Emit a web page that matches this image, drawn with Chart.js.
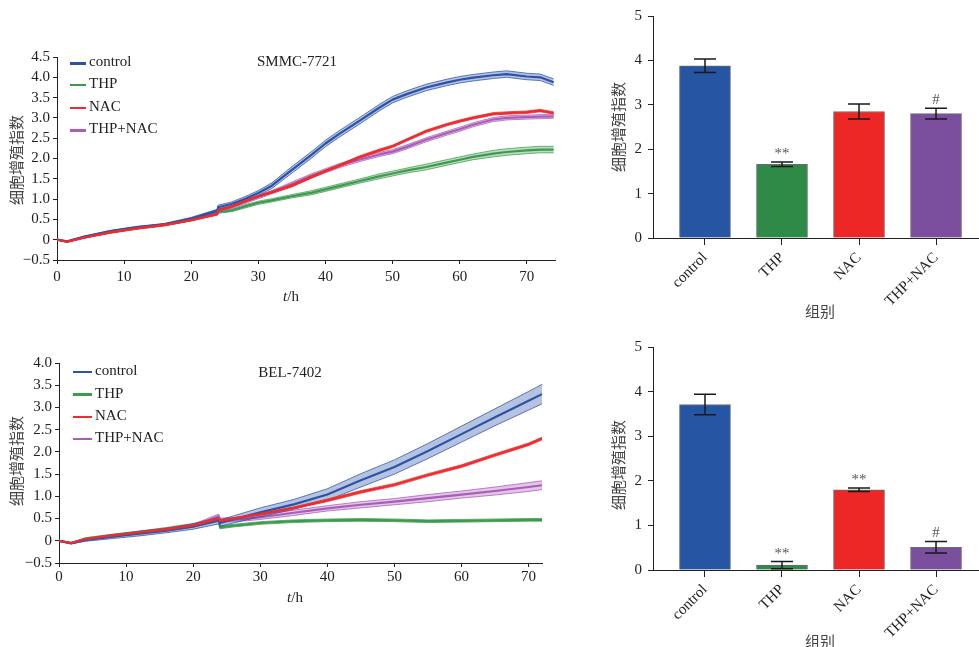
<!DOCTYPE html>
<html>
<head>
<meta charset="utf-8">
<script src="https://cdn.jsdelivr.net/npm/chart.js@4.4.1/dist/chart.umd.min.js"></script>
<style>
  body { margin: 0; background: #fff; }
  #wrap { position: relative; width: 979px; height: 647px; overflow: hidden;
          font-family: 'Liberation Serif', 'Times New Roman', serif; color: #222; }
  canvas { position: absolute; }
  .t { position: absolute; white-space: nowrap; font-size: 15px; line-height: 1;
       transform: translate(-50%, -50%); }
  .l { position: absolute; white-space: nowrap; font-size: 15px; line-height: 1;
       transform: translateY(-50%); }
  .cjk { font-family: 'Noto Sans CJK SC', sans-serif; color: #444; }
  .vt { transform: translate(-50%, -50%) rotate(-90deg); }
  .swatch { position: absolute; }
</style>
</head>
<body>
<div id="wrap">
  <canvas id="lineA" width="600" height="330" style="left:0;top:0"></canvas>
  <canvas id="lineB" width="600" height="317" style="left:0;top:330px"></canvas>
  <canvas id="barA" width="379" height="330" style="left:600px;top:0"></canvas>
  <canvas id="barB" width="379" height="317" style="left:600px;top:330px"></canvas>

  <div class="t" style="left:297px;top:61px">SMMC-7721</div>
  <div class="t" style="left:290px;top:372px">BEL-7402</div>
  <div class="t" style="left:291px;top:296px"><i>t</i>/h</div>
  <div class="t" style="left:295px;top:597px"><i>t</i>/h</div>
  <div class="t cjk vt" style="left:15px;top:160px">细胞增殖指数</div>
  <div class="t cjk vt" style="left:15px;top:461px">细胞增殖指数</div>
  <div class="t cjk vt" style="left:617px;top:127px">细胞增殖指数</div>
  <div class="t cjk vt" style="left:617px;top:465px">细胞增殖指数</div>
  <div class="t cjk" style="left:820px;top:310px">组别</div>
  <div class="t cjk" style="left:820px;top:640px">组别</div>
  <div id="legends"></div>
</div>
<script>
const serif = "'Liberation Serif', 'Times New Roman', serif";

const groups = ['control', 'THP', 'NAC', 'THP+NAC'];
const lineColors = ['#2b53a7', '#3d9b4d', '#ee2b2e', '#a95cb8'];
const barColors = ['#2655a3', '#2f8a47', '#ec2726', '#7c4f9e'];

// SMMC-7721 real-time proliferation
const hoursA = [0, 1.5, 4, 8, 12, 16, 20, 23.9, 24, 26, 28, 30, 32, 35, 38, 40, 42, 45, 48, 50, 52, 55, 58, 60, 62, 65, 67, 70, 72, 74];
const controlA = [0, -0.04, 0.07, 0.21, 0.31, 0.38, 0.52, 0.72, 0.80, 0.88, 1.00, 1.15, 1.33, 1.72, 2.10, 2.37, 2.60, 2.92, 3.25, 3.45, 3.58, 3.75, 3.87, 3.94, 3.99, 4.05, 4.08, 4.02, 4.00, 3.88];
const thpA     = [0, -0.05, 0.06, 0.19, 0.29, 0.37, 0.49, 0.65, 0.68, 0.72, 0.82, 0.91, 0.97, 1.07, 1.16, 1.24, 1.32, 1.44, 1.56, 1.63, 1.70, 1.79, 1.90, 1.97, 2.04, 2.12, 2.16, 2.20, 2.22, 2.22];
const nacA     = [0, -0.05, 0.05, 0.18, 0.28, 0.36, 0.48, 0.63, 0.72, 0.82, 0.95, 1.07, 1.17, 1.33, 1.55, 1.69, 1.82, 2.03, 2.20, 2.30, 2.45, 2.67, 2.83, 2.92, 3.00, 3.10, 3.12, 3.14, 3.18, 3.12];
const comboA   = [0, -0.05, 0.05, 0.19, 0.29, 0.37, 0.49, 0.64, 0.73, 0.80, 0.93, 1.05, 1.17, 1.37, 1.58, 1.70, 1.82, 1.97, 2.10, 2.17, 2.28, 2.46, 2.62, 2.72, 2.83, 2.96, 3.00, 3.02, 3.03, 3.04];
const controlErrA = [0, 0.01, 0.02, 0.02, 0.02, 0.02, 0.03, 0.03, 0.05, 0.05, 0.06, 0.06, 0.07, 0.08, 0.08, 0.08, 0.08, 0.08, 0.08, 0.08, 0.08, 0.08, 0.08, 0.08, 0.08, 0.08, 0.08, 0.08, 0.08, 0.08];
const thpErrA     = [0, 0.01, 0.01, 0.02, 0.02, 0.02, 0.02, 0.03, 0.03, 0.03, 0.04, 0.04, 0.04, 0.04, 0.05, 0.05, 0.05, 0.05, 0.06, 0.06, 0.06, 0.07, 0.07, 0.07, 0.07, 0.08, 0.08, 0.08, 0.08, 0.08];
const nacErrA     = [0, 0.01, 0.01, 0.02, 0.02, 0.02, 0.02, 0.02, 0.02, 0.02, 0.02, 0.02, 0.03, 0.03, 0.03, 0.03, 0.03, 0.03, 0.03, 0.03, 0.03, 0.03, 0.03, 0.03, 0.03, 0.03, 0.03, 0.03, 0.03, 0.03];
const comboErrA   = [0, 0.01, 0.01, 0.02, 0.02, 0.02, 0.02, 0.03, 0.03, 0.03, 0.04, 0.04, 0.04, 0.05, 0.05, 0.05, 0.05, 0.05, 0.05, 0.05, 0.05, 0.05, 0.05, 0.05, 0.05, 0.05, 0.05, 0.05, 0.05, 0.05];

// BEL-7402 real-time proliferation
const hoursB = [0, 1.8, 4, 8, 12, 16, 20, 23.8, 24, 26, 28, 30, 35, 40, 45, 50, 55, 60, 65, 70, 72];
const controlB = [0, -0.06, 0.02, 0.09, 0.16, 0.23, 0.32, 0.45, 0.40, 0.48, 0.56, 0.64, 0.82, 1.04, 1.36, 1.66, 2.02, 2.40, 2.78, 3.15, 3.30];
const thpB     = [0, -0.05, 0.05, 0.13, 0.20, 0.27, 0.36, 0.50, 0.30, 0.34, 0.37, 0.40, 0.44, 0.46, 0.47, 0.46, 0.44, 0.45, 0.46, 0.47, 0.47];
const nacB     = [0, -0.05, 0.04, 0.12, 0.19, 0.26, 0.35, 0.50, 0.45, 0.50, 0.55, 0.60, 0.74, 0.91, 1.10, 1.26, 1.48, 1.68, 1.93, 2.17, 2.30];
const comboB   = [0, -0.05, 0.03, 0.11, 0.18, 0.25, 0.34, 0.55, 0.47, 0.48, 0.50, 0.53, 0.63, 0.73, 0.81, 0.88, 0.96, 1.04, 1.12, 1.21, 1.25];
const controlErrB = [0, 0.01, 0.03, 0.04, 0.05, 0.05, 0.06, 0.07, 0.07, 0.08, 0.09, 0.10, 0.11, 0.13, 0.15, 0.16, 0.17, 0.18, 0.19, 0.21, 0.22];
const thpErrB     = [0, 0.01, 0.02, 0.02, 0.02, 0.03, 0.03, 0.03, 0.03, 0.03, 0.03, 0.03, 0.03, 0.03, 0.03, 0.03, 0.03, 0.03, 0.03, 0.03, 0.03];
const nacErrB     = [0, 0.01, 0.01, 0.01, 0.01, 0.02, 0.02, 0.02, 0.02, 0.02, 0.02, 0.02, 0.02, 0.03, 0.03, 0.03, 0.03, 0.03, 0.03, 0.03, 0.03];
const comboErrB   = [0, 0.01, 0.02, 0.02, 0.02, 0.03, 0.03, 0.05, 0.04, 0.04, 0.05, 0.05, 0.06, 0.06, 0.07, 0.07, 0.08, 0.08, 0.09, 0.10, 0.10];

// end-point bars
const barMeansA = [3.88, 1.66, 2.85, 2.80];
const barErrA   = [0.15, 0.05, 0.17, 0.12];
const barMarksA = ['', '**', '', '#'];
const barMeansB = [3.71, 0.11, 1.80, 0.51];
const barErrB   = [0.23, 0.08, 0.04, 0.13];
const barMarksB = ['', '**', '**', '#'];

const yTicksLine = v => v === 0 ? '0' : (v < 0 ? '\u2212' : '') + Math.abs(v).toFixed(1);

function rgba(hex, a) {
  const n = parseInt(hex.slice(1), 16);
  return `rgba(${n >> 16},${(n >> 8) & 255},${n & 255},${a})`;
}
const pts = (xs, ys) => xs.map((x, i) => ({ x, y: ys[i] }));

function axisStyle(extra) {
  return Object.assign({
    grid: { display: true, drawOnChartArea: false, drawTicks: true, tickLength: 4, color: '#222' },
    border: { display: true, color: '#222', width: 1 },
  }, extra);
}

function timeChart(id, cfg) {
  const datasets = [];
  cfg.order.forEach((i) => {
    const s = cfg.series[i];
    const c = lineColors[i];
    const common = { pointRadius: 0, tension: 0, borderJoinStyle: 'round' };
    datasets.push({ ...common, data: pts(cfg.hours, s.vals), borderColor: c, borderWidth: 2.2, fill: false });
    datasets.push({ ...common, data: pts(cfg.hours, s.vals.map((v, k) => v + s.errs[k])),
      borderColor: rgba(c, 0.75), borderWidth: 1, fill: '+1', backgroundColor: rgba(c, 0.35) });
    datasets.push({ ...common, data: pts(cfg.hours, s.vals.map((v, k) => v - s.errs[k])),
      borderColor: rgba(c, 0.75), borderWidth: 1, fill: false });
  });
  const font = { family: serif, size: 15 };
  new Chart(document.getElementById(id), {
    type: 'line',
    data: { datasets },
    options: {
      responsive: false, animation: false, events: [],
      layout: { padding: cfg.pad },
      plugins: { legend: { display: false }, tooltip: { enabled: false } },
      scales: {
        x: axisStyle({ type: 'linear', min: 0, max: cfg.xMax,
          ticks: { stepSize: 10, includeBounds: false, autoSkip: false, font, color: '#222', padding: cfg.xPad, maxRotation: 0 },
          afterFit: (s) => { s.height = cfg.xH; } }),
        y: axisStyle({ type: 'linear', min: -0.5, max: cfg.yMax,
          ticks: { stepSize: 0.5, includeBounds: false, autoSkip: false, font, color: '#222', padding: 3, callback: yTicksLine },
          afterFit: (s) => { s.width = cfg.yW; } }),
      },
    },
  });
}

const barExtras = {
  id: 'barExtras',
  afterDatasetsDraw(chart, args, o) {
    const { ctx, scales: { x, y } } = chart;
    ctx.save();
    o.means.forEach((m, i) => {
      const px = x.getPixelForValue(i);
      const top = y.getPixelForValue(m + o.errs[i]);
      const bot = y.getPixelForValue(m - o.errs[i]);
      ctx.strokeStyle = '#1a1a1a';
      ctx.lineWidth = 1.5;
      ctx.beginPath();
      ctx.moveTo(px, top); ctx.lineTo(px, bot);
      ctx.moveTo(px - 11, top); ctx.lineTo(px + 11, top);
      ctx.moveTo(px - 11, bot); ctx.lineTo(px + 11, bot);
      ctx.stroke();
      if (o.marks[i]) {
        ctx.fillStyle = '#555';
        ctx.font = '15px ' + serif;
        ctx.textAlign = 'center';
        ctx.textBaseline = 'alphabetic';
        ctx.fillText(o.marks[i], px, top - 4);
      }
    });
    ctx.restore();
  },
};

function barChart(id, means, errs, marks, cfg) {
  const font = { family: serif, size: 15 };
  new Chart(document.getElementById(id), {
    type: 'bar',
    data: {
      datasets: [{
        data: means.map((v, i) => ({ x: i, y: v })),
        backgroundColor: barColors,
        borderColor: 'rgba(70,70,70,0.8)',
        borderWidth: 1,
        barThickness: 51,
      }],
    },
    plugins: [barExtras],
    options: {
      responsive: false, animation: false, events: [],
      layout: { padding: { top: cfg.top, right: 1 } },
      plugins: { legend: { display: false }, tooltip: { enabled: false },
        barExtras: { means, errs, marks } },
      scales: {
        x: axisStyle({ type: 'linear', min: -0.675, max: 3.545, offset: false,
          grid: { display: true, offset: false, drawOnChartArea: false, drawTicks: true, tickLength: 7, color: '#222' },
          ticks: { stepSize: 1, includeBounds: false, autoSkip: false, minRotation: 45, maxRotation: 45,
            font, color: '#222', padding: 4, callback: (v) => groups[v] ?? '' },
          afterFit: (s) => { s.height = cfg.xH; } }),
        y: axisStyle({ type: 'linear', min: 0, max: 5,
          grid: { display: true, drawOnChartArea: false, drawTicks: true, tickLength: 5, color: '#222' },
          ticks: { stepSize: 1, includeBounds: false, autoSkip: false, font, color: '#222', padding: 6 },
          afterFit: (s) => { s.width = 53; } }),
      },
    },
  });
}

timeChart('lineA', {
  hours: hoursA, xMax: 74.2, yMax: 4.5, yW: 57, xH: 70, xPad: 4,
  pad: { top: 57, right: 45, left: 0, bottom: 0 },
  order: [2, 0, 3, 1],
  series: [
    { vals: controlA, errs: controlErrA },
    { vals: thpA, errs: thpErrA },
    { vals: nacA, errs: nacErrA },
    { vals: comboA, errs: comboErrA },
  ],
});
timeChart('lineB', {
  hours: hoursB, xMax: 72, yMax: 4.0, yW: 59, xH: 84, xPad: 1,
  pad: { top: 33, right: 58, left: 0, bottom: 0 },
  order: [2, 0, 3, 1],
  series: [
    { vals: controlB, errs: controlErrB },
    { vals: thpB, errs: thpErrB },
    { vals: nacB, errs: nacErrB },
    { vals: comboB, errs: comboErrB },
  ],
});
barChart('barA', barMeansA, barErrA, barMarksA, { top: 16, xH: 92 });
barChart('barB', barMeansB, barErrB, barMarksB, { top: 17, xH: 77 });

// in-plot legends
const legendBoxes = [
  { x: 70, text: 89, rows: [61, 83, 105.5, 128], widths: [3, 1.5, 2, 3] },
  { x: 73, text: 95, rows: [370, 392.7, 415, 437.3], widths: [2, 3, 2, 2] },
];
const lg = document.getElementById('legends');
legendBoxes.forEach((b) => {
  groups.forEach((g, i) => {
    const sw = document.createElement('div');
    sw.className = 'swatch';
    sw.style.cssText = `left:${b.x}px;top:${b.rows[i] + 2 - b.widths[i] / 2}px;width:${b.text - b.x - 3}px;height:${b.widths[i]}px;background:${lineColors[i]}`;
    lg.appendChild(sw);
    const tx = document.createElement('div');
    tx.className = 'l';
    tx.style.cssText = `left:${b.text}px;top:${b.rows[i]}px`;
    tx.textContent = g;
    lg.appendChild(tx);
  });
});
</script>
</body>
</html>
